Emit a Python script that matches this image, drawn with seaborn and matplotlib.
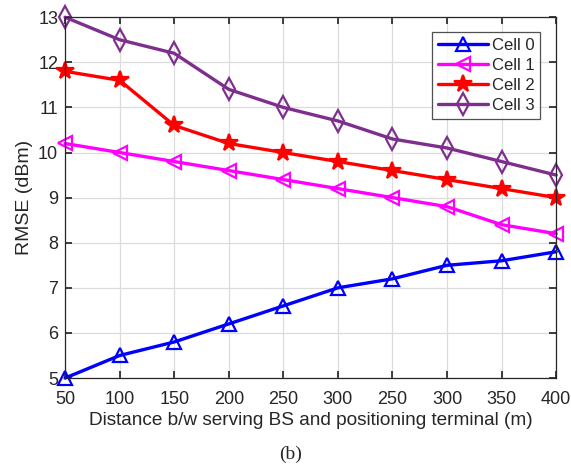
import numpy as np
import pandas as pd
import matplotlib
matplotlib.use("Agg")
import matplotlib.pyplot as plt
import seaborn as sns

# tick labels as printed on the original figure (note the repeated 250/300)
distance_labels = ["50", "100", "150", "200", "250", "300", "250", "300", "350", "400"]
cell0 = [5.0, 5.5, 5.8, 6.2, 6.6, 7.0, 7.2, 7.5, 7.6, 7.8]
cell1 = [10.2, 10.0, 9.8, 9.6, 9.4, 9.2, 9.0, 8.8, 8.4, 8.2]
cell2 = [11.8, 11.6, 10.6, 10.2, 10.0, 9.8, 9.6, 9.4, 9.2, 9.0]
cell3 = [13.0, 12.5, 12.2, 11.4, 11.0, 10.7, 10.3, 10.1, 9.8, 9.5]
series_names = ["Cell 0", "Cell 1", "Cell 2", "Cell 3"]


def main():
    sns.set_theme(style="ticks")
    plt.rcParams["font.family"] = ["Liberation Sans", "DejaVu Sans"]

    pos = np.arange(len(distance_labels))
    frames = []
    for name, vals in zip(series_names, [cell0, cell1, cell2, cell3]):
        frames.append(pd.DataFrame({"pos": pos, "rmse": vals, "cell": name}))
    data = pd.concat(frames, ignore_index=True)

    colors = {"Cell 0": "#0000ff", "Cell 1": "#ff00ff",
              "Cell 2": "#ff0000", "Cell 3": "#7e2f8e"}
    markers = {"Cell 0": "^", "Cell 1": "<", "Cell 2": "*", "Cell 3": "d"}
    msize = {"Cell 0": 10, "Cell 1": 10, "Cell 2": 13, "Cell 3": 11}

    fig = plt.figure(figsize=(5.71, 4.65), dpi=100)
    ax = fig.add_axes([0.114, 0.187, 0.860, 0.776])

    for name in series_names:
        sub = data[data["cell"] == name]
        filled = name == "Cell 2"
        sns.lineplot(x="pos", y="rmse", data=sub, ax=ax, color=colors[name],
                     linewidth=2.4, marker=markers[name], markersize=msize[name],
                     markerfacecolor=colors[name] if filled else "none",
                     markeredgecolor=colors[name], markeredgewidth=1.6,
                     label=name, clip_on=False)

    ax.set_xlim(0, len(distance_labels) - 1)
    ax.set_ylim(5, 13)
    ax.set_xticks(pos)
    ax.set_xticklabels(distance_labels)
    ax.set_yticks(np.arange(5, 14, 1))
    ax.tick_params(direction="in", top=True, right=True, labelsize=13,
                   length=5, colors="#262626")
    ax.tick_params(axis="x", pad=9)
    ax.tick_params(axis="y", pad=5)
    ax.grid(True, color="#dcdcdc", linewidth=0.9)
    for s in ax.spines.values():
        s.set_color("#262626")
        s.set_linewidth(0.9)

    ax.set_xlabel("Distance b/w serving BS and positioning terminal (m)",
                  fontsize=13.7, color="#262626")
    ax.set_ylabel("RMSE (dBm)", fontsize=14, color="#262626")
    ax.xaxis.set_label_coords(0.5, -0.094)
    ax.yaxis.set_label_coords(-0.066, 0.5)

    leg = ax.legend(loc="upper right", bbox_to_anchor=(0.968, 0.958),
                    fontsize=12, frameon=True, fancybox=False,
                    handlelength=3.0, borderpad=0.35, labelspacing=0.3,
                    handletextpad=0.25, borderaxespad=0.0)
    leg.get_frame().set_edgecolor("#262626")
    leg.get_frame().set_linewidth(0.9)

    fig.text(0.508, 0.022, "(b)", ha="center", va="center", fontsize=14,
             family="Liberation Serif")

    fig.savefig("out.png", dpi=100)
    plt.close(fig)


if __name__ == "__main__":
    main()
